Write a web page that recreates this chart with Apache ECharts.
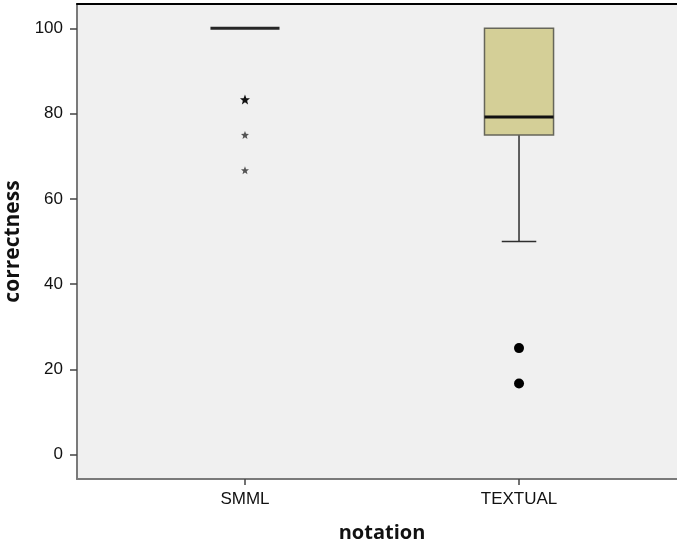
<!DOCTYPE html>
<html>
<head>
<meta charset="utf-8">
<script src="https://cdn.jsdelivr.net/npm/echarts@6/dist/echarts.min.js"></script>
<style>
  html, body { margin: 0; padding: 0; background: #ffffff; }
  #chart { width: 677px; height: 545px; }
</style>
</head>
<body>
<div id="chart"></div>
<script>
// Groups along the horizontal axis
const categories = ['SMML', 'TEXTUAL'];
// Tick values on the correctness axis
const yTicks = [0, 20, 40, 60, 80, 100];
// Five-number summaries per group: [lower whisker, Q1, median, Q3, upper whisker]
const smmlSummary = [100, 100, 100, 100, 100];
const textualSummary = [50, 75, 79.2, 100, 100];
// Extreme values (stars) for SMML
const smmlExtremes = [83.3, 75, 66.7];
// Outliers (circles) for TEXTUAL
const textualOutliers = [25, 16.7];

const summaries = [smmlSummary, textualSummary];
const boxData = summaries.map((s, i) => [i].concat(s));
const starData = smmlExtremes.map(v => [0, v]);
const circleData = textualOutliers.map(v => [1, v]);

const STAR = 'path://M0,-10L2.6,-3.4L9.5,-3.1L4.1,1.3L5.9,8.1L0,4.2L-5.9,8.1L-4.1,1.3L-9.5,-3.1L-2.6,-3.4Z';

const tickFont = { fontFamily: '"Liberation Sans", Arial, sans-serif', fontSize: 17, color: '#111' };
const nameFont = { fontFamily: '"Open Sans", sans-serif', fontWeight: 'bold', color: '#111' };

function renderBox(params, api) {
  const x = api.value(0);
  const lo = api.value(1), q1 = api.value(2), med = api.value(3), q3 = api.value(4), hi = api.value(5);
  const unit = api.size([1, 0])[0];
  const half = unit * 0.126;
  const capHalf = half / 2;
  const pLo = api.coord([x, lo]);
  const pQ1 = api.coord([x, q1]);
  const pMed = api.coord([x, med]);
  const pQ3 = api.coord([x, q3]);
  const pHi = api.coord([x, hi]);
  const cx = pMed[0];
  const children = [];
  const whiskerStyle = { stroke: '#2e2e2e', lineWidth: 1.5 };
  if (lo < q1) {
    children.push({ type: 'line', shape: { x1: cx, y1: pQ1[1], x2: cx, y2: pLo[1] }, style: whiskerStyle });
    children.push({ type: 'line', shape: { x1: cx - capHalf, y1: pLo[1], x2: cx + capHalf, y2: pLo[1] }, style: whiskerStyle });
  }
  if (hi > q3) {
    children.push({ type: 'line', shape: { x1: cx, y1: pQ3[1], x2: cx, y2: pHi[1] }, style: whiskerStyle });
    children.push({ type: 'line', shape: { x1: cx - capHalf, y1: pHi[1], x2: cx + capHalf, y2: pHi[1] }, style: whiskerStyle });
  }
  if (q3 > q1) {
    children.push({
      type: 'rect',
      shape: { x: cx - half, y: pQ3[1], width: half * 2, height: pQ1[1] - pQ3[1] },
      style: { fill: '#d4cf97', stroke: '#66665a', lineWidth: 1.5 }
    });
  }
  children.push({
    type: 'line',
    shape: { x1: cx - half, y1: pMed[1], x2: cx + half, y2: pMed[1] },
    style: { stroke: q3 > q1 ? '#111' : '#262626', lineWidth: 3 }
  });
  return { type: 'group', children: children };
}

const chart = echarts.init(document.getElementById('chart'), null, { renderer: 'canvas' });
chart.setOption({
  animation: false,
  backgroundColor: '#ffffff',
  grid: {
    left: 77, right: -10, top: 4, bottom: 66,
    outerBoundsMode: 'none',
    containLabel: false,
    show: true, backgroundColor: '#f0f0f0', borderWidth: 0
  },
  xAxis: [{
    type: 'value',
    min: -0.613, max: 1.613,
    name: 'notation',
    nameLocation: 'middle',
    nameGap: 44,
    nameTextStyle: Object.assign({ fontSize: 20 }, nameFont),
    splitLine: { show: false },
    axisLine: { show: true, onZero: false, lineStyle: { color: '#7a7a7a', width: 2 } },
    axisTick: { show: true, customValues: [0, 1], length: 6, lineStyle: { color: '#444', width: 1.5 } },
    axisLabel: Object.assign({
      customValues: [0, 1],
      margin: 12,
      formatter: v => categories[Math.round(v)]
    }, tickFont)
  }, {
    type: 'value',
    position: 'top',
    min: -0.613, max: 1.613,
    splitLine: { show: false },
    axisLine: { show: true, onZero: false, lineStyle: { color: '#000', width: 2 } },
    axisTick: { show: false },
    axisLabel: { show: false }
  }],
  yAxis: {
    type: 'value',
    min: -5.7, max: 105.7,
    name: 'correctness',
    nameLocation: 'middle',
    nameGap: 48,
    nameTextStyle: Object.assign({ fontSize: 21 }, nameFont),
    splitLine: { show: false },
    axisLine: { show: true, onZero: false, lineStyle: { color: '#7a7a7a', width: 2 } },
    axisTick: { show: true, customValues: yTicks, length: 7, lineStyle: { color: '#444', width: 1.5 } },
    axisLabel: Object.assign({ customValues: yTicks, margin: 14 }, tickFont)
  },
  series: [{
    type: 'custom',
    renderItem: renderBox,
    data: boxData,
    encode: { x: 0, y: [1, 2, 3, 4, 5] },
    z: 2
  }, {
    type: 'scatter',
    data: starData,
    symbol: STAR,
    symbolSize: (v, p) => p.dataIndex === 0 ? 10 : 8,
    itemStyle: {
      opacity: 1,
      color: p => p.dataIndex === 0 ? '#111' : '#555'
    },
    z: 3
  }, {
    type: 'scatter',
    data: circleData,
    symbol: 'circle',
    symbolSize: 10,
    itemStyle: { color: '#000', opacity: 1 },
    z: 3
  }]
});
</script>
</body>
</html>
